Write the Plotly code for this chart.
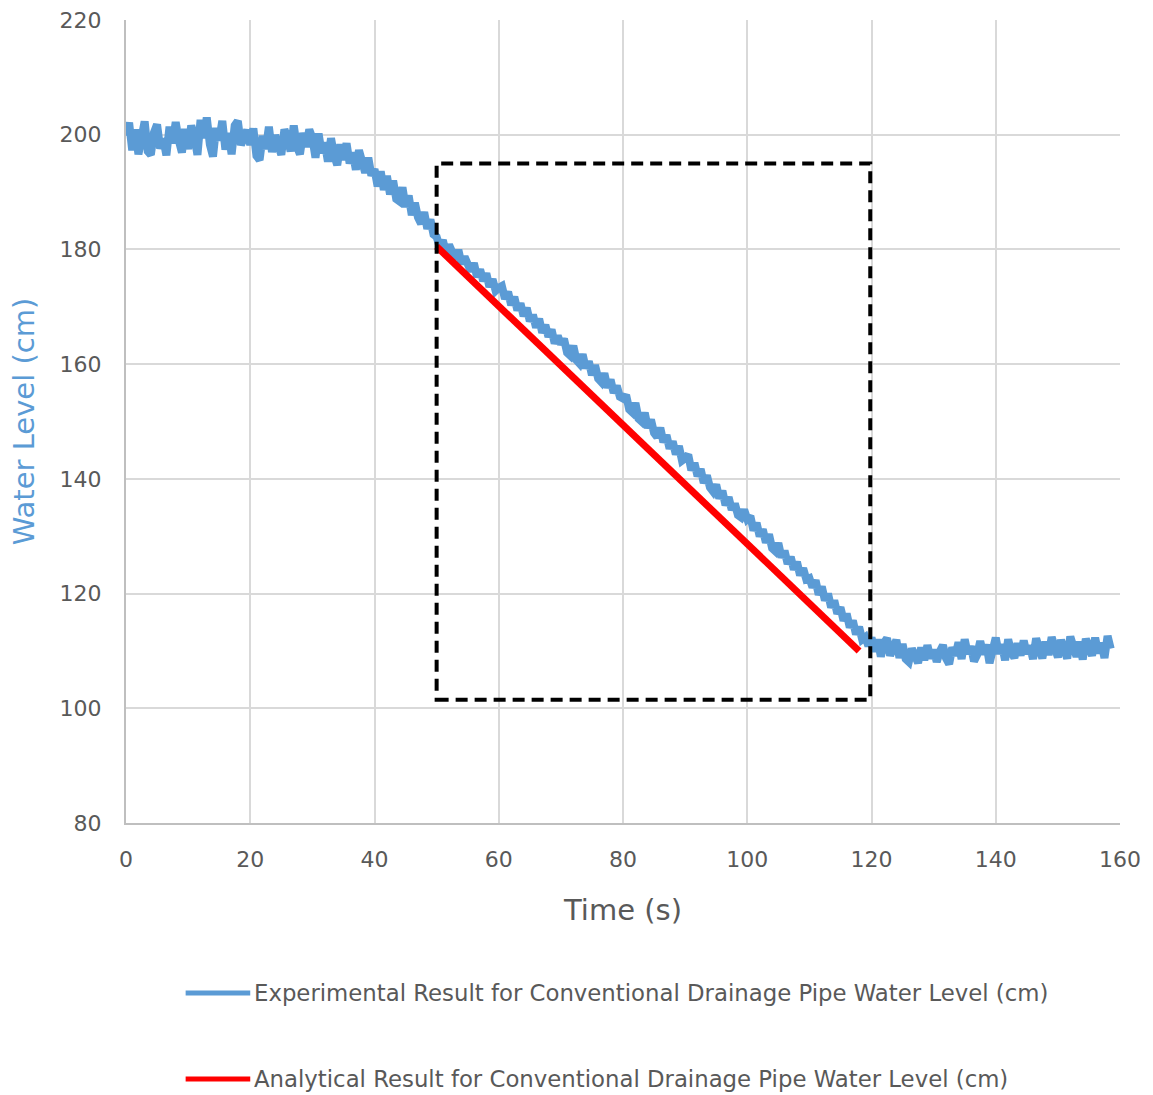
import plotly.graph_objects as go

# ---------------- data ----------------
# Experimental water level, sampled every 0.5 s starting at t = 0 s
experimental_level = [
    199.8, 202.1, 197.3, 200.9, 196.6, 199.9, 202.3, 197.1, 196.5, 200.4, 201.8, 197.6, 199.3, 196.4, 201.4, 198.5, 202.2, 199.0, 196.9, 201.0,
    197.5, 201.6, 199.8, 196.5, 202.6, 199.4, 203.0, 198.3, 196.2, 201.2, 199.0, 202.4, 197.4, 200.3, 196.6, 201.6, 202.4, 198.2, 199.6, 200.8,
    198.2, 201.1, 196.3, 195.6, 199.8, 197.5, 201.4, 197.0, 199.9, 198.6, 196.5, 200.9, 199.5, 197.1, 201.6, 198.0, 196.6, 200.3, 197.9, 200.9,
    199.4, 196.0, 200.2, 196.8, 198.6, 195.3, 199.4, 196.4, 194.7, 198.3, 195.6, 198.5, 195.0, 196.9, 193.9, 197.3, 194.5, 193.4, 196.0, 192.9,
    194.0, 191.0, 193.6, 190.4, 192.8, 189.6, 192.0, 188.8, 188.4, 190.8, 187.4, 189.4, 186.0, 188.1, 185.6, 184.5, 186.5, 183.6, 185.2, 182.6,
    182.2, 180.4, 181.6, 179.4, 180.8, 179.0, 178.3, 179.9, 177.5, 178.7, 177.1, 176.2, 177.6, 175.2, 176.5, 174.5, 175.8, 173.5, 174.8, 172.8,
    173.3, 173.6, 171.4, 172.6, 170.3, 171.7, 169.4, 170.6, 168.4, 169.8, 167.5, 168.6, 166.4, 167.9, 165.5, 166.8, 164.8, 166.0, 163.6, 164.9,
    163.5, 164.4, 162.0, 161.5, 163.2, 160.7, 160.1, 161.7, 159.3, 160.5, 158.1, 159.8, 157.5, 156.9, 158.4, 155.9, 157.3, 155.0, 156.2, 154.3,
    154.0, 154.6, 152.1, 151.6, 153.2, 150.5, 150.0, 151.5, 148.9, 150.3, 148.0, 147.3, 148.9, 146.4, 147.6, 145.3, 146.5, 144.3, 145.7, 143.2,
    143.6, 144.2, 141.5, 142.8, 140.5, 141.7, 139.3, 140.6, 138.5, 137.8, 139.0, 136.6, 137.9, 135.4, 136.8, 134.6, 135.7, 133.7, 133.3, 134.6,
    133.0, 133.5, 131.0, 132.3, 130.0, 131.2, 128.9, 130.3, 127.9, 127.4, 128.8, 126.3, 127.5, 125.2, 126.4, 124.2, 125.5, 123.2, 124.4, 122.5,
    122.7, 121.1, 122.3, 119.8, 121.2, 118.8, 120.0, 117.6, 118.8, 116.5, 117.6, 115.3, 116.5, 114.1, 115.3, 112.9, 114.2, 112.0, 112.4, 110.9,
    112.3, 109.9, 112.0, 109.0, 111.4, 112.2, 109.2, 110.9, 111.9, 108.8, 111.2, 108.6, 108.1, 110.4, 109.3, 107.9, 110.6, 108.4, 111.0, 108.7,
    110.2, 108.1, 109.9, 111.0, 108.7, 107.7, 110.6, 109.2, 111.5, 108.6, 112.0, 109.5, 110.8, 108.2, 109.3, 111.7, 109.4, 111.1, 107.9, 110.7,
    112.3, 109.5, 111.1, 108.4, 112.0, 109.8, 108.8, 111.3, 109.2, 111.8, 109.5, 110.9, 108.6, 112.2, 110.0, 108.7, 111.6, 109.3, 112.4, 110.1,
    108.9, 111.9, 109.8, 108.7, 112.5, 110.6, 109.0, 111.6, 108.5, 112.1, 110.3, 109.2, 112.3, 109.6, 111.4, 108.8, 112.6, 110.4,
]
sample_start = 0.0
sample_step = 0.5

# Analytical result (straight line)
analytical_time = [50.0, 118.0]
analytical_level = [180.5, 110.0]

# Highlight box (time range, level range)
box_time = [50.0, 119.8]
box_level = [101.5, 195.0]

x_ticks = [0, 20, 40, 60, 80, 100, 120, 140, 160]
y_ticks = [80, 100, 120, 140, 160, 180, 200, 220]

legend_labels = [
    "Experimental Result for Conventional Drainage Pipe Water Level (cm)",
    "Analytical Result for Conventional Drainage Pipe Water Level (cm)",
]

BLUE = "#5B9BD5"
RED = "#FF0000"
GRID = "#D9D9D9"
TXT = "#595959"
FONT = "DejaVu Sans"

fig = go.Figure()

fig.add_trace(go.Scatter(
    x0=sample_start, dx=sample_step, y=experimental_level,
    mode="lines", line=dict(color=BLUE, width=8),
    name=legend_labels[0], showlegend=False,
))
fig.add_trace(go.Scatter(
    x=analytical_time, y=analytical_level,
    mode="lines", line=dict(color=RED, width=7),
    name=legend_labels[1], showlegend=False,
))

# dashed highlight box
fig.add_shape(
    type="rect", xref="x", yref="y",
    x0=box_time[0], x1=box_time[1], y0=box_level[0], y1=box_level[1],
    line=dict(color="black", width=4, dash="12px,7px"),
    fillcolor="rgba(0,0,0,0)", layer="above",
)

# manual legend (paper coords); plot area spans y = 20..823 px
legend_rows = [(-0.2117, BLUE), (-0.3188, RED)]
for (yy, col), label in zip(legend_rows, legend_labels):
    fig.add_shape(
        type="line", xref="paper", yref="paper",
        x0=0.060, x1=0.125, y0=yy, y1=yy,
        line=dict(color=col, width=5),
    )
    fig.add_annotation(
        xref="paper", yref="paper", x=0.127, y=yy,
        text=label, showarrow=False, xanchor="left", yanchor="middle",
        font=dict(family=FONT, size=22.8, color=TXT),
    )

fig.update_layout(
    width=1153, height=1095,
    margin=dict(l=126, r=33, t=20, b=272, autoexpand=False),
    paper_bgcolor="white", plot_bgcolor="white",
    showlegend=False,
    font=dict(family=FONT, color=TXT),
)

fig.update_xaxes(
    range=[0, 160], tickvals=x_ticks, ticks="", automargin=False,
    showgrid=True, gridcolor=GRID, gridwidth=2,
    showline=True, linecolor="#BFBFBF", linewidth=2,
    zeroline=False, mirror=False,
    tickfont=dict(family=FONT, size=22, color=TXT),
    ticklabelstandoff=16,
    title=dict(text="Time (s)", font=dict(family=FONT, size=29, color=TXT), standoff=28),
)
fig.update_yaxes(
    range=[80, 220], tickvals=y_ticks, ticks="", automargin=False,
    showgrid=True, gridcolor=GRID, gridwidth=2,
    showline=True, linecolor="#BFBFBF", linewidth=2,
    zeroline=False,
    tickfont=dict(family=FONT, size=22, color=TXT),
    ticklabelstandoff=18,
    title=dict(text="Water Level (cm)", font=dict(family=FONT, size=29, color=BLUE), standoff=16),
)

fig.write_html("out.html")
